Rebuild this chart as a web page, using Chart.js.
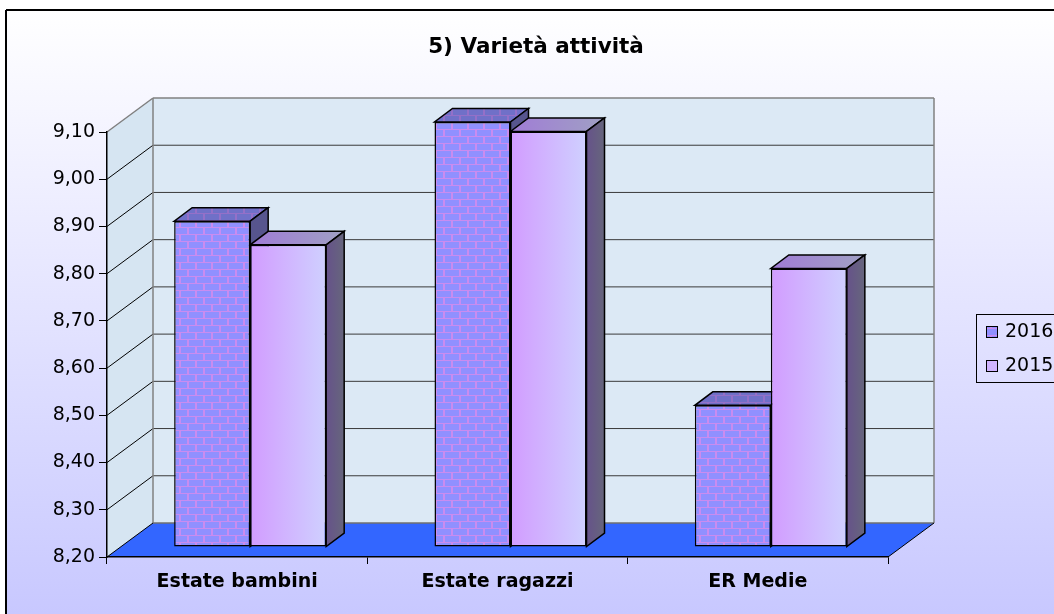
<!DOCTYPE html>
<html>
<head>
<meta charset="utf-8">
<script src="https://cdn.jsdelivr.net/npm/chart.js@4.4.0/dist/chart.umd.min.js"></script>
<style>
  html, body { margin: 0; padding: 0; background: #fff; }
  canvas { display: block; }
</style>
</head>
<body>
<canvas id="chart" width="1054" height="614"></canvas>
<script>
// data
const categories = ["Estate bambini", "Estate ragazzi", "ER Medie"];
const seriesNames = ["2016", "2015"];
const values2016 = [8.89, 9.10, 8.50];
const values2015 = [8.84, 9.08, 8.79];
const yMin = 8.2;
const yMax = 9.1;
const yStep = 0.1;

// fake 3d offsets (px)
const WALL = { dx: 46, dy: -34 };
const BAR = { dx: 13, dy: -10 };
const TOP = { dx: 18, dy: -13.5 };
const catPct = 0.584;

const ctx = document.getElementById("chart").getContext("2d");

function brickPattern(base, mortar) {
  const c = document.createElement("canvas");
  c.width = 16;
  c.height = 14;
  const g = c.getContext("2d");
  g.fillStyle = mortar;
  g.fillRect(0, 0, 16, 14);
  g.fillStyle = base;
  g.fillRect(0, 0, 14, 6);
  g.fillRect(8, 7, 8, 6);
  g.fillRect(0, 7, 6, 6);
  return ctx.createPattern(c, "repeat");
}

const brickFront = brickPattern("#9090ff", "#c98cf0");
const brickTop = brickPattern("#7070c8", "#9470c8");

function frontGradient(c) {
  const xs = c.chart.scales.x;
  if (!xs || c.dataIndex === undefined) return "#cfa6ff";
  const left = xs.getPixelForValue(c.dataIndex);
  const right = left + (xs.width / categories.length) * catPct / 2;
  if (!Number.isFinite(left) || !Number.isFinite(right)) return "#cfa6ff";
  const g = c.chart.ctx.createLinearGradient(left, 0, right, 0);
  g.addColorStop(0, "#d29cff");
  g.addColorStop(1, "#cfd0ff");
  return g;
}

function poly(c, pts, fill, stroke, lw) {
  c.beginPath();
  c.moveTo(pts[0][0], pts[0][1]);
  for (let i = 1; i < pts.length; i++) c.lineTo(pts[i][0], pts[i][1]);
  c.closePath();
  if (fill) { c.fillStyle = fill; c.fill(); }
  if (stroke) { c.strokeStyle = stroke; c.lineWidth = lw || 1; c.stroke(); }
}

function line(c, x1, y1, x2, y2, color, lw) {
  c.beginPath();
  c.moveTo(x1, y1);
  c.lineTo(x2, y2);
  c.strokeStyle = color;
  c.lineWidth = lw || 1;
  c.stroke();
}

const scene3d = {
  id: "scene3d",
  beforeDraw(chart) {
    const c = chart.ctx;
    const { left, right, top, bottom } = chart.chartArea;
    const ys = chart.scales.y;
    c.save();
    // page background + frame
    c.fillStyle = "#ffffff";
    c.fillRect(0, 0, chart.width, chart.height);
    const bg = c.createLinearGradient(0, 10, 0, chart.height);
    bg.addColorStop(0, "#ffffff");
    bg.addColorStop(1, "#c8c8ff");
    c.fillStyle = bg;
    c.fillRect(6, 10, chart.width, chart.height);
    line(c, 6, 10, chart.width, 10, "#000", 2);
    line(c, 6, 10, 6, chart.height, "#000", 2);

    // walls
    poly(c, [[left + WALL.dx, top + WALL.dy], [right + WALL.dx, top + WALL.dy],
             [right + WALL.dx, bottom + WALL.dy], [left + WALL.dx, bottom + WALL.dy]], "#dce9f5");
    poly(c, [[left, top], [left + WALL.dx, top + WALL.dy],
             [left + WALL.dx, bottom + WALL.dy], [left, bottom]], "#d6e5f2");
    // floor
    poly(c, [[left, bottom], [left + WALL.dx, bottom + WALL.dy],
             [right + WALL.dx, bottom + WALL.dy], [right, bottom]], "#3366ff");

    // grid lines
    ys.ticks.forEach((t) => {
      if (t.value <= yMin + 1e-6 || t.value >= yMax - 1e-6) return;
      const y = ys.getPixelForValue(t.value);
      line(c, left + WALL.dx, y + WALL.dy, right + WALL.dx, y + WALL.dy, "#3a3a3a", 1);
      line(c, left, y, left + WALL.dx, y + WALL.dy, "#000", 1);
    });

    // wall outlines
    line(c, left, top, left + WALL.dx, top + WALL.dy, "#808080", 1.5);
    line(c, left + WALL.dx, top + WALL.dy, right + WALL.dx, top + WALL.dy, "#808080", 1.5);
    line(c, right + WALL.dx, top + WALL.dy, right + WALL.dx, bottom + WALL.dy, "#808080", 1.5);
    line(c, left + WALL.dx, top + WALL.dy, left + WALL.dx, bottom + WALL.dy, "#808080", 1.5);
    line(c, left + WALL.dx, bottom + WALL.dy, right + WALL.dx, bottom + WALL.dy, "#707070", 1.5);
    line(c, left, bottom, left + WALL.dx, bottom + WALL.dy, "#000", 1);
    line(c, right, bottom, right + WALL.dx, bottom + WALL.dy, "#000", 1);
    c.restore();
  },
  beforeDatasetsDraw(chart) {
    const c = chart.ctx;
    c.save();
    c.translate(BAR.dx, BAR.dy);
    chart.data.datasets.forEach((ds, i) => {
      const meta = chart.getDatasetMeta(i);
      meta.data.forEach((el) => {
        const { x, y, base, width } = el.getProps(["x", "y", "base", "width"], true);
        const l = x - width / 2;
        const r = x + width / 2;
        let topFill, sideFill;
        if (i === 0) {
          topFill = brickTop;
          sideFill = "#57558e";
        } else {
          topFill = c.createLinearGradient(l, 0, r + TOP.dx, 0);
          topFill.addColorStop(0, "#a07cd6");
          topFill.addColorStop(1, "#a0a0c4");
          sideFill = c.createLinearGradient(r, 0, r + TOP.dx, 0);
          sideFill.addColorStop(0, "#66528a");
          sideFill.addColorStop(1, "#66667c");
        }
        poly(c, [[l, y], [r, y], [r + TOP.dx, y + TOP.dy], [l + TOP.dx, y + TOP.dy]], topFill, "#000", 1.5);
        poly(c, [[r, y], [r + TOP.dx, y + TOP.dy], [r + TOP.dx, base + TOP.dy], [r, base]], sideFill, "#000", 1.5);
      });
    });
    // stays translated while the front faces are drawn
  },
  afterDatasetsDraw(chart) {
    chart.ctx.restore();
  },
  afterDraw(chart) {
    const c = chart.ctx;
    const lx = chart.chartArea.right + 88;
    const ly = 314;
    c.save();
    c.strokeStyle = "#000";
    c.lineWidth = 1;
    c.strokeRect(lx + 0.5, ly + 0.5, 200, 68);
    const swatches = [brickFront, "#d0b4ff"];
    chart.data.datasets.forEach((ds, i) => {
      const sy = ly + 12 + i * 34;
      c.fillStyle = swatches[i];
      c.fillRect(lx + 10, sy, 12, 12);
      c.strokeRect(lx + 10.5, sy + 0.5, 11, 11);
      c.fillStyle = "#000";
      c.font = "19px 'DejaVu Sans'";
      c.textBaseline = "middle";
      c.fillText(ds.label, lx + 29, sy + 6.5);
    });
    c.restore();
  },
};

const chart = new Chart(ctx, {
  type: "bar",
  data: {
    labels: categories,
    datasets: [
      {
        label: seriesNames[0],
        data: values2016,
        base: yMin,
        backgroundColor: brickFront,
        borderColor: "#000",
        borderWidth: 1.5,
        borderSkipped: false,
        categoryPercentage: catPct,
        barPercentage: 1,
        clip: false,
      },
      {
        label: seriesNames[1],
        data: values2015,
        base: yMin,
        backgroundColor: frontGradient,
        borderColor: "#000",
        borderWidth: 1.5,
        borderSkipped: false,
        categoryPercentage: catPct,
        barPercentage: 1,
        clip: false,
      },
    ],
  },
  options: {
    responsive: false,
    animation: false,
    events: [],
    layout: { padding: { left: 18, right: 0, top: 35, bottom: 0 } },
    plugins: {
      legend: { display: false },
      tooltip: { enabled: false },
      title: {
        display: true,
        text: "5) Varietà attività",
        color: "#000",
        font: { family: "'DejaVu Sans'", size: 21.5, weight: "bold" },
        padding: { top: 0, bottom: 71.2 },
      },
    },
    scales: {
      x: {
        grid: { offset: true, drawOnChartArea: false, drawTicks: true, tickLength: 7, color: "#000" },
        border: { display: true, color: "#000", width: 1.5 },
        ticks: {
          color: "#000",
          padding: 7,
          maxRotation: 0,
          autoSkip: false,
          font: { family: "'DejaVu Sans'", size: 19, weight: "bold" },
        },
        afterFit: (s) => { s.height = 57; },
      },
      y: {
        min: yMin,
        max: yMax,
        grid: { drawOnChartArea: false, tickLength: 8, color: "#000" },
        border: { display: true, color: "#000", width: 1.5 },
        ticks: {
          stepSize: yStep,
          color: "#000",
          padding: 4,
          font: { family: "'DejaVu Sans'", size: 19 },
          callback: (v) => v.toFixed(2).replace(".", ","),
        },
        afterFit: (s) => { s.width = 89; },
      },
      // empty axis that only keeps room for the legend on the right
      yRoom: {
        type: "linear",
        position: "right",
        grid: { display: false },
        border: { display: false },
        ticks: { display: false },
        afterFit: (s) => { s.width = 166; },
      },
    },
  },
  plugins: [scene3d],
});
</script>
</body>
</html>
